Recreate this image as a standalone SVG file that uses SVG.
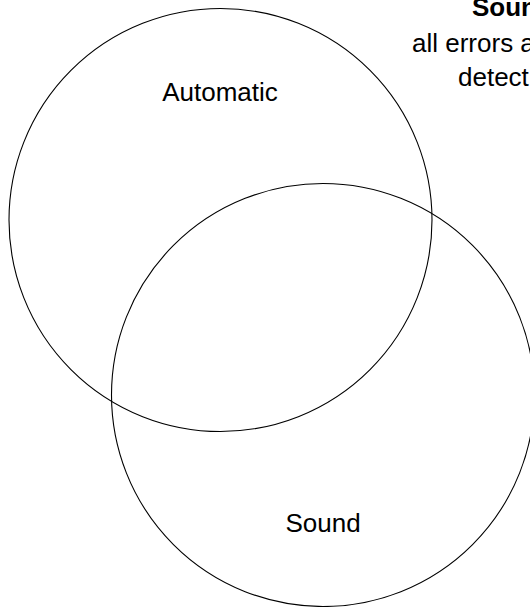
<svg xmlns="http://www.w3.org/2000/svg" width="530" height="607" viewBox="0 0 530 607">
  <style>
    .set { fill: none; stroke: #000; stroke-width: 1.1; }
    .lbl { font-family: "Liberation Sans", "DejaVu Sans", sans-serif; font-size: 26px; fill: #000; }
    .title { font-weight: bold; }
  </style>
  <rect width="530" height="607" fill="#fff"/>
  <g id="connectors"></g>
  <!-- set: automatic -->
  <g id="automatic">
    <circle class="set" cx="220.5" cy="220" r="211.5"/>
    <text class="lbl" x="220" y="101" text-anchor="middle">Automatic</text>
  </g>
  <!-- set: sound -->
  <g id="sound">
    <circle class="set" cx="323" cy="395" r="211.5"/>
    <text class="lbl" x="323" y="532" text-anchor="middle">Sound</text>
  </g>
  <!-- caption in the top right corner, running off the right edge -->
  <g id="caption">
    <text class="lbl title" x="472" y="16">Soun</text>
    <text class="lbl" x="412" y="52">all errors a</text>
    <text class="lbl" x="458" y="86">detect</text>
  </g>
</svg>
